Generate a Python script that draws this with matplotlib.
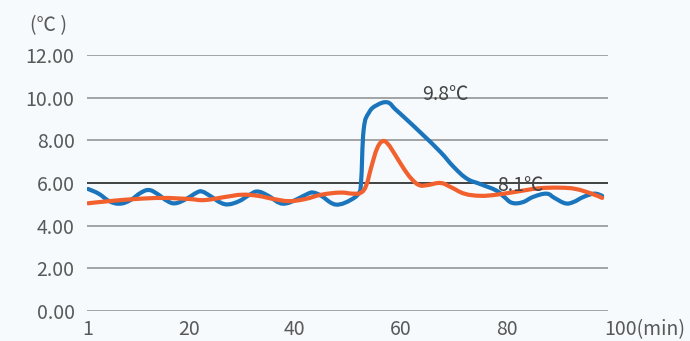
import matplotlib
matplotlib.use('Agg')
import numpy as np
import matplotlib.pyplot as plt
import matplotlib.transforms as mtransforms
from matplotlib.path import Path
from matplotlib.patches import PathPatch

plt.rcParams['font.family'] = ['Noto Sans CJK SC', 'DejaVu Sans']

# blue series
blue_x = [1, 3, 5, 7, 9, 11, 12.5, 14, 16, 17.5, 19.5, 21.5, 22.5, 24, 26,
          27.5, 29.5, 31.5, 33, 35, 37, 38.5, 40.5, 42.5, 43.5, 45, 47, 48.5,
          50.5, 52, 52.5, 53, 54, 55.5, 57.5, 59, 61, 64, 67.5, 70, 72.5, 75,
          78, 79.5, 81, 83, 85, 87.5, 89, 91, 92.5, 94.5, 96.5, 98]
blue_y = [5.72, 5.5, 5.15, 5.03, 5.2, 5.55, 5.67, 5.5, 5.15, 5.05, 5.25, 5.55,
          5.6, 5.4, 5.08, 5.0, 5.15, 5.45, 5.6, 5.4, 5.08, 5.05, 5.25, 5.5,
          5.55, 5.4, 5.05, 5.0, 5.2, 5.5, 6.0, 8.5, 9.3, 9.65, 9.78, 9.45,
          9.0, 8.3, 7.45, 6.75, 6.2, 5.95, 5.65, 5.35, 5.07, 5.1, 5.35, 5.5,
          5.3, 5.05, 5.1, 5.35, 5.5, 5.4]

# orange series
orange_x = [1, 5, 10, 15, 20, 23, 27, 30, 33, 36, 39, 42, 45, 48.5, 51, 52.5,
            53.5, 54.5, 55.5, 56.5, 57.5, 59, 60.5, 62, 63.5, 65, 67.5, 69.5,
            72, 75, 78, 82, 86, 90, 93, 96, 98]
orange_y = [5.05, 5.15, 5.25, 5.3, 5.25, 5.2, 5.35, 5.45, 5.4, 5.25, 5.15,
            5.25, 5.45, 5.55, 5.5, 5.55, 5.9, 6.8, 7.6, 7.95, 7.85, 7.3, 6.7,
            6.2, 5.9, 5.9, 6.0, 5.8, 5.5, 5.4, 5.45, 5.6, 5.75, 5.78, 5.72,
            5.5, 5.3]

y_ticks = [0, 2, 4, 6, 8, 10, 12]
x_ticks = [1, 20, 40, 60, 80]
peak_labels = ['9.8℃', '8.1℃']

bg = '#f6fafd'
txt = '#595959'


def smooth_path(xs, ys, k=0.2):
    # catmull-rom style bezier through the points (smooth line style)
    p = np.column_stack([xs, ys]).astype(float)
    verts = [p[0]]
    codes = [Path.MOVETO]
    n = len(p)
    for i in range(n - 1):
        p0 = p[max(i - 1, 0)]
        p1 = p[i]
        p2 = p[i + 1]
        p3 = p[min(i + 2, n - 1)]
        c1 = p1 + (p2 - p0) * k
        c2 = p2 - (p3 - p1) * k
        verts += [c1, c2, p2]
        codes += [Path.CURVE4] * 3
    return Path(verts, codes)


fig = plt.figure(figsize=(6.9, 3.41), dpi=100, facecolor=bg)
ax = fig.add_axes([87 / 690, 30 / 341, 521 / 690, 256 / 341], facecolor=bg)

for v in y_ticks:
    ax.axhline(v, color='#333333' if v == 6 else '#8c8c8c',
               lw=1.3 if v == 6 else 1.1, zorder=1)

for xs, ys, c, z in [(blue_x, blue_y, '#1a75bc', 3),
                     (orange_x, orange_y, '#f2602e', 4)]:
    ax.add_patch(PathPatch(smooth_path(xs, ys), facecolor='none',
                           edgecolor=c, lw=3, capstyle='round',
                           joinstyle='round', zorder=z))

ax.set_xlim(0.8, 99.1)
ax.set_ylim(0, 12)
ax.set_yticks(y_ticks)
ax.set_yticklabels(['%.2f' % v for v in y_ticks])
ax.set_xticks(x_ticks)
ax.set_xticklabels([str(v) for v in x_ticks])
ax.tick_params(length=0, labelsize=14, colors=txt)
ax.tick_params(axis='y', pad=9)
ax.tick_params(axis='x', pad=6)
for s in ax.spines.values():
    s.set_visible(False)

trans = mtransforms.blended_transform_factory(ax.transData, ax.transAxes)
ax.annotate('100(min)', xy=(98.3, 0), xycoords=trans, xytext=(0, -6),
            textcoords='offset points', ha='left', va='top',
            fontsize=14, color=txt)
ax.text(68.4, 10.15, peak_labels[0], ha='center', va='center', fontsize=14,
        color='#444444', zorder=5)
ax.text(82.5, 5.9, peak_labels[1], ha='center', va='center', fontsize=14,
        color='#444444', zorder=5)

fig.text(48 / 690, 1 - 26 / 341, '(℃ )', ha='center', va='center',
         fontsize=14, color=txt)

fig.savefig('out.png', dpi=100, facecolor=bg)
